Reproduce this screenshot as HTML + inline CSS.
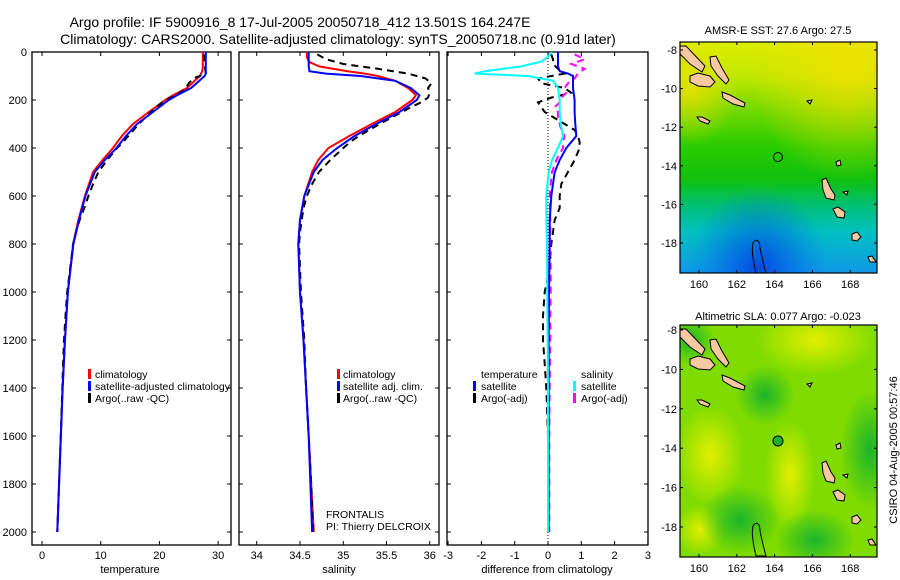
<!DOCTYPE html>
<html><head><meta charset="utf-8">
<style>
html,body{margin:0;padding:0;background:#fff;}
svg{display:block;font-family:"Liberation Sans",sans-serif;}
</style></head>
<body>
<svg id="fig" width="900" height="580" viewBox="0 0 900 580" xmlns="http://www.w3.org/2000/svg">
<defs>
  <linearGradient id="sstV" x1="0" y1="0" x2="0" y2="1">
    <stop offset="0" stop-color="#dcee00"/>
    <stop offset="0.15" stop-color="#c0e800"/>
    <stop offset="0.3" stop-color="#70d800"/>
    <stop offset="0.45" stop-color="#2acc00"/>
    <stop offset="0.6" stop-color="#10c010"/>
    <stop offset="0.7" stop-color="#00bf70"/>
    <stop offset="0.82" stop-color="#00c0c0"/>
    <stop offset="1" stop-color="#1098e8"/>
  </linearGradient>
  <radialGradient id="sstYel" cx="0.85" cy="0.1" r="0.5">
    <stop offset="0" stop-color="#f0e000" stop-opacity="0.9"/>
    <stop offset="1" stop-color="#f0e000" stop-opacity="0"/>
  </radialGradient>
  <radialGradient id="sstYel2" cx="0.05" cy="0.2" r="0.25">
    <stop offset="0" stop-color="#f0e000" stop-opacity="0.8"/>
    <stop offset="1" stop-color="#f0e000" stop-opacity="0"/>
  </radialGradient>
  <radialGradient id="sstBlue" cx="0.4" cy="0.98" r="0.35">
    <stop offset="0" stop-color="#0040e0" stop-opacity="0.9"/>
    <stop offset="1" stop-color="#0060f0" stop-opacity="0"/>
  </radialGradient>
  <radialGradient id="slaYel" r="0.5">
    <stop offset="0" stop-color="#e8f000" stop-opacity="0.95"/>
    <stop offset="1" stop-color="#e8f000" stop-opacity="0"/>
  </radialGradient>
  <radialGradient id="slaDark" r="0.5">
    <stop offset="0" stop-color="#10b030" stop-opacity="0.9"/>
    <stop offset="1" stop-color="#10b030" stop-opacity="0"/>
  </radialGradient>
  <clipPath id="clipMap1"><rect x="680" y="42" width="197" height="231"/></clipPath>
  <clipPath id="clipMap2"><rect x="680" y="325" width="197" height="232"/></clipPath>
  <clipPath id="clipP1"><rect x="32" y="52" width="199" height="493"/></clipPath>
  <clipPath id="clipP2"><rect x="239" y="52" width="200" height="493"/></clipPath>
  <clipPath id="clipP3"><rect x="447" y="52" width="201" height="493"/></clipPath>
  <g id="islands">
    <polygon points="680,46 686,46 705,66 702,72 690,64 680,54" />
    <polygon points="710,57 716,56 722,68 729,80 726,84 718,76 711,66" />
    <polygon points="690,76 698,73 710,76 715,82 710,87 698,86 690,82" />
    <polygon points="722,92 730,95 745,103 744,107 733,104 723,98" />
    <polygon points="697,117 702,117 710,121 708,124 700,121" />
    <polygon points="822,180 826,178 831,189 835,195 834,200 826,198 823,190" />
    <polygon points="833,209 838,207 845,212 844,218 837,217" />
    <polygon points="852,234 857,232 861,237 857,241 852,240" />
    <polygon points="843,192 848,191 847,195" />
    <polygon points="836,162 840,160 841,165 837,166" />
    <polygon points="868,257 872,256 876,262 870,262" />
    <polygon points="807,101 812,100 810,104" />
  </g>
</defs>

<text x="300" y="27" font-size="14" text-anchor="middle">Argo profile: IF 5900916_8 17-Jul-2005 20050718_412 13.501S 164.247E</text>
<text x="338" y="44" font-size="14" text-anchor="middle">Climatology: CARS2000. Satellite-adjusted climatology: synTS_20050718.nc (0.91d later)</text>

<rect x="32" y="52" width="199" height="493" fill="none" stroke="#000" stroke-width="1.3"/>
<rect x="239" y="52" width="200" height="493" fill="none" stroke="#000" stroke-width="1.3"/>
<rect x="447" y="52" width="201" height="493" fill="none" stroke="#000" stroke-width="1.3"/>
<line x1="548" y1="52" x2="548" y2="545" stroke="#000" stroke-width="1" stroke-dasharray="1,2"/>

<g id="axes"></g>
<g id="series"></g>

<text x="130" y="573" font-size="11" text-anchor="middle">temperature</text>
<text x="339" y="573" font-size="11" text-anchor="middle">salinity</text>
<text x="547" y="573" font-size="11" text-anchor="middle">difference from climatology</text>

<g font-size="10.5">
  <rect x="88" y="369" width="3" height="10" fill="#f00"/>
  <text x="95" y="378">climatology</text>
  <rect x="88" y="381" width="3" height="10" fill="#00f"/>
  <text x="95" y="390" textLength="135">satellite-adjusted climatology</text>
  <rect x="88" y="393" width="3" height="10" fill="#000"/>
  <text x="95" y="402">Argo(..raw -QC)</text>
</g>
<g font-size="10.5">
  <rect x="337" y="369" width="3" height="10" fill="#f00"/>
  <text x="343" y="378">climatology</text>
  <rect x="337" y="381" width="3" height="10" fill="#00f"/>
  <text x="343" y="390">satellite adj. clim.</text>
  <rect x="337" y="393" width="3" height="10" fill="#000"/>
  <text x="343" y="402">Argo(..raw -QC)</text>
</g>
<text x="326" y="518" font-size="10.5">FRONTALIS</text>
<text x="326" y="530" font-size="10.5">PI: Thierry DELCROIX</text>
<g font-size="10.5">
  <text x="481" y="378">temperature</text>
  <rect x="473" y="381" width="3" height="10" fill="#00f"/>
  <text x="481" y="390">satellite</text>
  <rect x="473" y="393" width="3" height="10" fill="#000"/>
  <text x="481" y="402">Argo(-adj)</text>
  <text x="581" y="378">salinity</text>
  <rect x="573" y="381" width="3" height="10" fill="#0ff"/>
  <text x="581" y="390">satellite</text>
  <rect x="573" y="393" width="3" height="10" fill="#f0f"/>
  <text x="581" y="402">Argo(-adj)</text>
</g>

<text x="778" y="34" font-size="11" text-anchor="middle">AMSR-E SST: 27.6 Argo: 27.5</text>
<g clip-path="url(#clipMap1)">
  <rect x="680" y="42" width="197" height="231" fill="url(#sstV)"/>
  <rect x="680" y="42" width="197" height="231" fill="url(#sstYel)"/>
  <rect x="680" y="42" width="197" height="231" fill="url(#sstYel2)"/>
  <rect x="680" y="42" width="197" height="231" fill="url(#sstBlue)"/>
  <use href="#islands" fill="#f8c8a0" stroke="#000" stroke-width="1"/>
  <path d="M753,243 C756,238 760,240 760,248 C762,258 764,266 766,273 L756,273 C754,264 751,252 753,243 Z" fill="none" stroke="#000" stroke-width="1"/>
  <circle cx="778" cy="157" r="4.5" fill="none" stroke="#000" stroke-width="1"/>
</g>
<rect x="680" y="42" width="197" height="231" fill="none" stroke="#000" stroke-width="1.2"/>

<text x="778" y="320" font-size="11" text-anchor="middle">Altimetric SLA: 0.077 Argo: -0.023</text>
<g clip-path="url(#clipMap2)">
  <rect x="680" y="325" width="197" height="232" fill="#80dc00"/>
  <ellipse cx="815" cy="340" rx="60" ry="35" fill="url(#slaYel)"/>
  <ellipse cx="710" cy="455" rx="35" ry="50" fill="url(#slaYel)"/>
  <ellipse cx="790" cy="475" rx="25" ry="55" fill="url(#slaYel)"/>
  <ellipse cx="700" cy="530" rx="25" ry="25" fill="url(#slaYel)"/>
  <ellipse cx="765" cy="395" rx="30" ry="30" fill="url(#slaDark)"/>
  <ellipse cx="740" cy="520" rx="40" ry="35" fill="url(#slaDark)"/>
  <ellipse cx="815" cy="540" rx="40" ry="30" fill="url(#slaDark)"/>
  <ellipse cx="870" cy="450" rx="30" ry="60" fill="url(#slaDark)"/>
  <ellipse cx="690" cy="340" rx="25" ry="25" fill="url(#slaDark)"/>
  <g transform="translate(0,283)">
    <use href="#islands" fill="#f8c8a0" stroke="#000" stroke-width="1"/>
    <path d="M753,243 C756,238 760,240 760,248 C762,258 764,266 766,273 L756,273 C754,264 751,252 753,243 Z" fill="none" stroke="#000" stroke-width="1"/>
  </g>
  <circle cx="778" cy="441" r="5" fill="#22b030" stroke="#000" stroke-width="1"/>
</g>
<rect x="680" y="325" width="197" height="232" fill="none" stroke="#000" stroke-width="1.2"/>

<text transform="translate(897,450) rotate(-90)" font-size="11" text-anchor="middle">CSIRO 04-Aug-2005 00:57:46</text>

<g id="mapaxes"></g>

<script>
const depths = [0,20,40,60,80,90,100,120,150,180,200,250,300,350,400,450,500,600,700,800,1000,1200,1400,1600,1800,2000];
const tempClim = [27.4,27.4,27.4,27.4,27.3,27.1,26.9,26.0,24.7,22.3,21.0,18.2,15.5,13.6,12.1,10.3,8.7,7.3,6.2,5.3,4.4,3.9,3.5,3.2,2.9,2.6];
const tempSat  = [27.9,27.9,27.9,27.9,27.9,27.9,27.7,26.8,25.4,23.0,21.6,18.9,16.2,14.3,12.7,10.7,9.0,7.4,6.3,5.35,4.42,3.92,3.52,3.22,2.92,2.6];
const salClim  = [34.58,34.58,34.6,34.72,35.05,35.25,35.4,35.6,35.75,35.84,35.8,35.6,35.33,35.07,34.83,34.71,34.64,34.55,34.5,34.48,34.5,34.54,34.57,34.6,34.63,34.66];
const salSat   = [34.6,34.6,34.6,34.6,34.61,34.8,35.2,35.6,35.78,35.88,35.85,35.65,35.38,35.13,34.93,34.76,34.66,34.55,34.5,34.48,34.5,34.54,34.57,34.6,34.62,34.64];
const tempSatDiff = [0.3,0.3,0.3,0.3,0.35,0.6,0.75,0.75,0.75,0.78,0.8,0.8,0.82,0.85,0.55,0.35,0.2,0.1,0.05,0.05,0.03,0.02,0.02,0.02,0.02,0.02];
const salSatDiff  = [0.12,0.0,-0.2,-0.8,-1.9,-2.2,-0.6,0.15,0.3,0.33,0.35,0.35,0.38,0.45,0.3,0.12,0.02,-0.05,-0.05,-0.03,-0.02,-0.01,0,0,0,0];
const argoDepths = [10,30,50,70,90,110,130,150,170,190,210,230,250,275,300,325,350,375,400,450,500,550,600,650,700,750,800,900,1000,1100,1200,1300,1400,1600,1800,2000];
const tempArgo = [27.6,27.7,27.7,27.8,27.9,25.8,25.0,24.5,23.5,22.0,20.5,19.5,18.5,17.5,16.5,15.6,14.7,13.8,12.8,11.1,9.6,8.7,7.9,7.2,6.4,5.8,5.3,4.8,4.3,4.0,3.75,3.6,3.45,3.2,2.9,2.6];
const salArgo  = [34.7,34.8,35.0,35.4,35.75,35.95,36.02,35.98,36.0,35.98,35.9,35.78,35.68,35.55,35.42,35.3,35.18,35.08,35.0,34.85,34.72,34.64,34.58,34.54,34.52,34.5,34.49,34.5,34.51,34.53,34.55,34.56,34.57,34.6,34.63,34.65];
const tempArgoDiff = [0.1,0.15,0.15,0.3,0.5,-0.3,-0.2,0.5,0.7,0.1,-0.3,-0.2,-0.1,0.2,0.5,0.8,0.9,0.95,0.95,0.8,0.6,0.4,0.35,0.35,0.2,0.15,0.1,0.05,-0.1,-0.15,-0.15,-0.1,-0.05,0,0,0];
const salArgoDiff  = [0.8,1.1,0.7,1.1,0.9,0.8,0.6,0.5,0.55,0.4,0.35,0.2,0.3,0.3,0.35,0.4,0.5,0.45,0.45,0.25,0.12,0.08,0.05,0.06,0.07,0.07,0.07,0.08,0.08,0.07,0.07,0.06,0.05,0.04,0.04,0.04];
const depthTicks = [0,200,400,600,800,1000,1200,1400,1600,1800,2000];
const tempTicks = [0,10,20,30];
const salTicks = [34,34.5,35,35.5,36];
const diffTicks = [-3,-2,-1,0,1,2,3];
const lonTicks = [160,162,164,166,168];
const latTicks = [-8,-10,-12,-14,-16,-18];

const NS = 'http://www.w3.org/2000/svg';
const yD = d => 52 + d * 0.24;
const xT = t => 42 + t * 5.87;
const xS = s => 300 + (s - 34.5) * 86.5;
const xDf = v => 548 + v * 33.3;
const lonX = l => 699 + (l - 160) * 18.9;
const latY1 = l => 50 + (-8 - l) * 19.3;
const latY2 = l => 330 + (-8 - l) * 19.7;

const axes = document.getElementById('axes');
const series = document.getElementById('series');
const mapaxes = document.getElementById('mapaxes');

function mk(tag, attrs, parent) {
  const e = document.createElementNS(NS, tag);
  for (const k in attrs) e.setAttribute(k, attrs[k]);
  parent.appendChild(e);
  return e;
}

const boxes = [[32,231],[239,439],[447,648]];
depthTicks.forEach(d => {
  boxes.forEach(b => {
    const t1 = mk('line', {x1:b[0], y1:yD(d), x2:b[0]+4, y2:yD(d), stroke:'#000'}, axes);
    
    
    const t2 = mk('line', {x1:b[1]-4, y1:yD(d), x2:b[1], y2:yD(d), stroke:'#000'}, axes);
    
    
  });
  const lb = mk('text', {x:27, y:yD(d)+4, 'font-size':11, 'text-anchor':'end'}, axes);
  lb.textContent = d;
  
  
});
function xticks(ticks, fx, fmt) {
  ticks.forEach(v => {
    const x = fx(v);
    const a = mk('line', {x1:x, y1:545, x2:x, y2:541, stroke:'#000'}, axes);
    
    
    const b = mk('line', {x1:x, y1:52, x2:x, y2:56, stroke:'#000'}, axes);
    
    
    const l = mk('text', {x:x, y:559, 'font-size':11, 'text-anchor':'middle'}, axes);
    l.textContent = fmt(v);
    
    
  });
}
xticks(tempTicks, xT, v => v);
xticks(salTicks, xS, v => v);
xticks(diffTicks, xDf, v => v);

function line(ds, vs, fx, color, dash, clip, name) {
  const pts = ds.map((d, i) => fx(vs[i]).toFixed(1) + ',' + yD(d).toFixed(1)).join(' ');
  const p = mk('polyline', {points:pts, fill:'none', stroke:color, 'stroke-width':2, 'clip-path':'url(#' + clip + ')'}, series);
  if (dash) p.setAttribute('stroke-dasharray', dash);
  
  
}
line(depths, tempClim, xT, '#f00', null, 'clipP1', 'temp-climatology-line');
line(argoDepths, tempArgo, xT, '#000', '7,5', 'clipP1', 'temp-argo-line');
line(depths, tempSat, xT, '#00f', null, 'clipP1', 'temp-satellite-line');
line(depths, salClim, xS, '#f00', null, 'clipP2', 'sal-climatology-line');
line(argoDepths, salArgo, xS, '#000', '7,5', 'clipP2', 'sal-argo-line');
line(depths, salSat, xS, '#00f', null, 'clipP2', 'sal-satellite-line');
line(argoDepths, tempArgoDiff, xDf, '#000', '7,5', 'clipP3', 'temp-argo-diff-line');
line(argoDepths, salArgoDiff, xDf, '#f0f', '7,5', 'clipP3', 'sal-argo-diff-line');
line(depths, tempSatDiff, xDf, '#00f', null, 'clipP3', 'temp-satellite-diff-line');
line(depths, salSatDiff, xDf, '#0ff', null, 'clipP3', 'sal-satellite-diff-line');

[[42,273,latY1],[325,557,latY2]].forEach(m => {
  lonTicks.forEach(l => {
    const x = lonX(l);
    const a = mk('line', {x1:x, y1:m[1], x2:x, y2:m[1]-3, stroke:'#000'}, mapaxes);
    
    
    const b = mk('line', {x1:x, y1:m[0], x2:x, y2:m[0]+3, stroke:'#000'}, mapaxes);
    
    
    const t = mk('text', {x:x, y:m[1]+15, 'font-size':11, 'text-anchor':'middle'}, mapaxes);
    t.textContent = l;
    
    
  });
  latTicks.forEach(l => {
    const y = m[2](l);
    const a = mk('line', {x1:680, y1:y, x2:683, y2:y, stroke:'#000'}, mapaxes);
    
    
    const b = mk('line', {x1:874, y1:y, x2:877, y2:y, stroke:'#000'}, mapaxes);
    
    
    const t = mk('text', {x:677, y:y+4, 'font-size':11, 'text-anchor':'end'}, mapaxes);
    t.textContent = '-' + Math.abs(l);
    
    
  });
});
</script>
</svg>
</body></html>
